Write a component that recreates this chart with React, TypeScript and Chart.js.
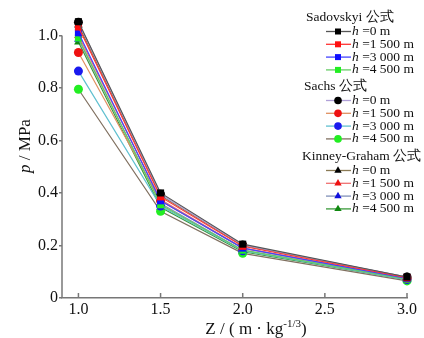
import React, { useEffect, useRef } from "react";
import { Chart, registerables } from "chart.js";

Chart.register(...registerables);

const zValues = [1.0, 1.5, 2.0, 3.0];
const xTickValues = [1.0, 1.5, 2.0, 2.5, 3.0];
const yTickValues = [0, 0.2, 0.4, 0.6, 0.8, 1.0];
const heightLabels = ["0 m", "1 500 m", "3 000 m", "4 500 m"];
const groupTitles = ["Sadovskyi 公式", "Sachs 公式", "Kinney-Graham 公式"];

const sadovskyi0 = [1.052, 0.4, 0.205, 0.08];
const sadovskyi1500 = [1.032, 0.385, 0.197, 0.077];
const sadovskyi3000 = [1.01, 0.37, 0.19, 0.075];
const sadovskyi4500 = [0.99, 0.355, 0.182, 0.072];

const sachs0 = [1.05, 0.395, 0.202, 0.08];
const sachs1500 = [0.935, 0.37, 0.19, 0.075];
const sachs3000 = [0.864, 0.35, 0.18, 0.07];
const sachs4500 = [0.795, 0.33, 0.17, 0.065];

const kinney0 = [1.04, 0.39, 0.2, 0.08];
const kinney1500 = [1.0, 0.375, 0.19, 0.077];
const kinney3000 = [0.985, 0.36, 0.182, 0.073];
const kinney4500 = [0.975, 0.345, 0.176, 0.07];

const seriesGroups = [
  [sadovskyi0, sadovskyi1500, sadovskyi3000, sadovskyi4500],
  [sachs0, sachs1500, sachs3000, sachs4500],
  [kinney0, kinney1500, kinney3000, kinney4500],
];
const groupPointStyles = ["rect", "circle", "triangle"];
const groupRadii = [5, 4.5, 5];
const markerColors = [
  ["#000000", "#ff1010", "#1010ff", "#22ee22"],
  ["#000000", "#ee1111", "#1a1aee", "#22ee22"],
  ["#000000", "#ee1111", "#1010dd", "#108810"],
];
const lineColors = [
  ["#555555", "#ff3333", "#4444ff", "#66cc66"],
  ["#b0a0d8", "#e09060", "#60c0d0", "#807060"],
  ["#8a7a55", "#f07070", "#8090b8", "#3a9a3a"],
];

const FONT = "'Liberation Serif', 'DejaVu Serif', serif";

const drawMarker = (ctx: any, style: string, r: number, x: number, y: number, color: string) => {
  ctx.fillStyle = color;
  ctx.beginPath();
  if (style === "rect") {
    const s = r * Math.SQRT1_2;
    ctx.rect(x - s, y - s, 2 * s, 2 * s);
  } else if (style === "circle") {
    ctx.arc(x, y, r, 0, Math.PI * 2);
  } else {
    ctx.moveTo(x, y - r);
    ctx.lineTo(x + r * 0.866, y + r * 0.5);
    ctx.lineTo(x - r * 0.866, y + r * 0.5);
    ctx.closePath();
  }
  ctx.fill();
};

const drawLegend = (chart: any) => {
  const ctx = chart.ctx;
  ctx.save();
  const lineX0 = 326;
  const lineX1 = 351;
  const markX = 338;
  const textX = 352;
  const titleXs = [306, 304, 302];
  const titleYs = [17, 86, 156];
  groupTitles.forEach((title, gi) => {
    ctx.font = `13.5px ${FONT}`;
    ctx.fillStyle = "#111";
    ctx.textAlign = "left";
    ctx.textBaseline = "middle";
    ctx.fillText(title, titleXs[gi], titleYs[gi]);
    heightLabels.forEach((hl, si) => {
      const ds = chart.data.datasets[gi * 4 + si];
      const y = titleYs[gi] + 14.5 + si * 12.8;
      ctx.strokeStyle = ds.borderColor;
      ctx.lineWidth = 1.3;
      ctx.beginPath();
      ctx.moveTo(lineX0, y);
      ctx.lineTo(lineX1, y);
      ctx.stroke();
      drawMarker(ctx, ds.pointStyle, ds.pointRadius * 0.85, markX, y, ds.pointBackgroundColor);
      ctx.font = `italic 13.5px ${FONT}`;
      ctx.fillStyle = "#111";
      ctx.fillText("h", textX, y);
      const hw = ctx.measureText("h").width;
      ctx.font = `13.5px ${FONT}`;
      ctx.fillText(" =" + hl, textX + hw, y);
    });
  });
  ctx.restore();
};

const customPlugin = {
  id: "customDecor",
  beforeDatasetsDraw(chart: any) {
    const ctx = chart.ctx;
    const xs = chart.scales.x;
    const ys = chart.scales.y;
    const bottom = chart.chartArea.bottom;
    const left = chart.chartArea.left;
    ctx.save();
    ctx.strokeStyle = "#777";
    ctx.lineWidth = 1.5;
    xTickValues.forEach((v) => {
      const px = xs.getPixelForValue(v);
      ctx.beginPath();
      ctx.moveTo(px, bottom);
      ctx.lineTo(px, bottom - 5);
      ctx.stroke();
    });
    // y axis line from 0 to top tick
    ctx.beginPath();
    ctx.moveTo(left, ys.getPixelForValue(0));
    ctx.lineTo(left, ys.getPixelForValue(yTickValues[yTickValues.length - 1]));
    ctx.stroke();
    ctx.restore();
  },
  afterDraw(chart: any) {
    const ctx = chart.ctx;
    ctx.save();
    ctx.translate(26, 146);
    ctx.rotate(-Math.PI / 2);
    ctx.fillStyle = "#111";
    ctx.textBaseline = "middle";
    ctx.textAlign = "left";
    ctx.font = `italic 17px ${FONT}`;
    const pW = ctx.measureText("p").width;
    ctx.font = `17px ${FONT}`;
    const restW = ctx.measureText(" / MPa").width;
    const total = pW + restW;
    ctx.font = `italic 17px ${FONT}`;
    ctx.fillText("p", -total / 2, 0);
    ctx.font = `17px ${FONT}`;
    ctx.fillText(" / MPa", -total / 2 + pW, 0);
    ctx.restore();

    ctx.save();
    ctx.fillStyle = "#111";
    ctx.textBaseline = "alphabetic";
    ctx.textAlign = "left";
    const part1 = "Z / ( m · kg";
    const sup = "-1/3";
    const part3 = ")";
    ctx.font = `17px ${FONT}`;
    const w1 = ctx.measureText(part1).width;
    const w3 = ctx.measureText(part3).width;
    ctx.font = `11px ${FONT}`;
    const w2 = ctx.measureText(sup).width;
    const tw = w1 + w2 + w3;
    const cx = 256;
    const by = 334;
    let x = cx - tw / 2;
    ctx.font = `17px ${FONT}`;
    ctx.fillText(part1, x, by);
    x += w1;
    ctx.font = `11px ${FONT}`;
    ctx.fillText(sup, x, by - 7);
    x += w2;
    ctx.font = `17px ${FONT}`;
    ctx.fillText(part3, x, by);
    ctx.restore();

    drawLegend(chart);
  },
};

export default function App() {
  const canvasRef = useRef<HTMLCanvasElement | null>(null);

  useEffect(() => {
    if (!canvasRef.current) return;
    const datasets: any[] = [];
    seriesGroups.forEach((group, gi) => {
      group.forEach((vals, si) => {
        datasets.push({
          label: `${groupTitles[gi]} h=${heightLabels[si]}`,
          data: zValues.map((z, i) => ({ x: z, y: vals[i] })),
          borderColor: lineColors[gi][si],
          borderWidth: 1.2,
          pointStyle: groupPointStyles[gi],
          pointRadius: groupRadii[gi],
          pointBackgroundColor: markerColors[gi][si],
          pointBorderColor: markerColors[gi][si],
          pointBorderWidth: 0,
          tension: 0,
          clip: false,
          order: gi === 0 ? 0 : gi === 1 ? 1 : 2,
        });
      });
    });

    const chart = new Chart(canvasRef.current, {
      type: "line",
      data: { datasets },
      options: {
        animation: false,
        responsive: false,
        layout: { padding: { top: 17, right: 17, left: 0, bottom: 0 } },
        plugins: {
          legend: { display: false },
          tooltip: { enabled: false },
        },
        scales: {
          x: {
            type: "linear",
            min: 0.9,
            max: 3.0,
            afterBuildTicks: (scale: any) => {
              scale.ticks = xTickValues.map((v) => ({ value: v }));
            },
            afterFit: (scale: any) => {
              scale.height = 40;
            },
            grid: { display: true, drawOnChartArea: false, drawTicks: false, color: "#777" },
            border: { display: true, color: "#777", width: 1.5 },
            ticks: {
              padding: 2,
              color: "#111",
              font: { family: FONT, size: 16 },
              callback: (v: any) => Number(v).toFixed(1),
            },
          },
          y: {
            type: "linear",
            min: 0,
            max: 1.07,
            afterBuildTicks: (scale: any) => {
              scale.ticks = yTickValues.map((v) => ({ value: v }));
            },
            afterFit: (scale: any) => {
              scale.width = 62;
            },
            grid: { display: true, drawOnChartArea: false, drawTicks: true, tickLength: 3, color: "#777", lineWidth: 1.5 },
            border: { display: false },
            ticks: {
              padding: 1,
              color: "#111",
              font: { family: FONT, size: 16 },
              callback: (v: any) => (Number(v) === 0 ? "0" : Number(v).toFixed(1)),
            },
          },
        },
      },
      plugins: [customPlugin],
    });
    return () => chart.destroy();
  }, []);

  return (
    <div style={{ position: "absolute", left: 0, top: 0, width: 424, height: 338, background: "#fff" }}>
      <canvas ref={canvasRef} width={424} height={338} style={{ width: 424, height: 338 }} />
    </div>
  );
}
